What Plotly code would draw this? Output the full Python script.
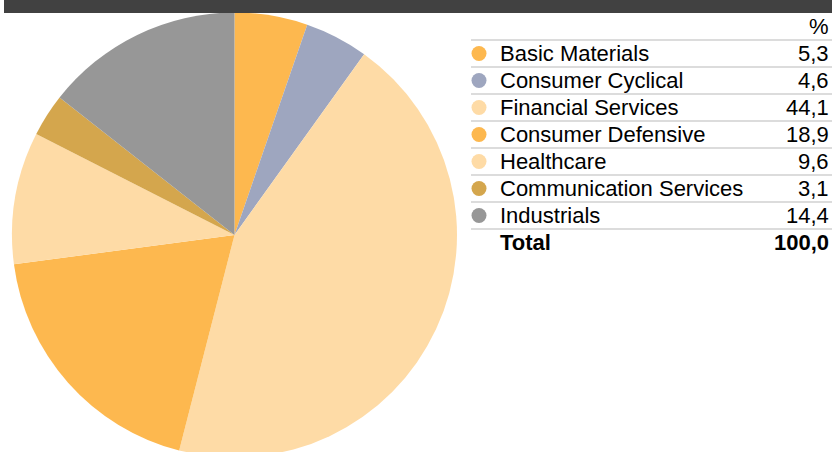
import plotly.graph_objects as go

# ---- data ----
categories = ["Basic Materials", "Consumer Cyclical", "Financial Services",
              "Consumer Defensive", "Healthcare", "Communication Services", "Industrials"]
values = [5.3, 4.6, 44.1, 18.9, 9.6, 3.1, 14.4]
value_labels = ["5,3", "4,6", "44,1", "18,9", "9,6", "3,1", "14,4"]
colors = ["#FDB84F", "#9EA6BF", "#FEDBA6", "#FDB84F", "#FEDBA6", "#D4A64D", "#979797"]
header_label = "%"
total_label = "Total"
total_value = "100,0"

# ---- layout constants (pixels) ----
W, H = 832, 470
FONT = "Liberation Sans, Arial, sans-serif"
FS = 22
row_top = 40       # first separator line
row_h = 27
dot_x = 479
text_x = 498
val_x = 831
line_x0, line_x1 = 471, 832

fig = go.Figure()

fig.add_trace(go.Pie(
    labels=categories, values=values, sort=False, direction="clockwise",
    rotation=0, marker=dict(colors=colors, line=dict(width=0)),
    textinfo="none", hoverinfo="skip", showlegend=False,
    domain=dict(x=[12 / W, 457 / W], y=[0, 1]),
))

row_centers = [row_top + row_h * (i + 0.5) for i in range(len(categories))]

fig.add_trace(go.Scatter(
    x=[dot_x] * len(categories), y=row_centers, mode="markers",
    marker=dict(size=15, color=colors, line=dict(width=0)),
    hoverinfo="skip", showlegend=False,
))

shapes = [dict(type="rect", xref="x", yref="y", x0=4, x1=W, y0=0, y1=13,
               fillcolor="#414141", line=dict(width=0), layer="above")]
for k in range(len(categories) + 1):
    yy = row_top + row_h * k
    shapes.append(dict(type="line", xref="x", yref="y", x0=line_x0, x1=line_x1,
                       y0=yy, y1=yy, line=dict(color="#DCDCDC", width=2), layer="below"))

annotations = [dict(x=val_x, y=26, xref="x", yref="y", text=header_label,
                    showarrow=False, xanchor="right", yanchor="middle",
                    font=dict(family=FONT, size=FS, color="#000"))]
for i, (c, v) in enumerate(zip(categories, value_labels)):
    annotations.append(dict(x=text_x, y=row_centers[i], xref="x", yref="y", text=c,
                            showarrow=False, xanchor="left", yanchor="middle",
                            font=dict(family=FONT, size=FS, color="#000")))
    annotations.append(dict(x=val_x, y=row_centers[i], xref="x", yref="y", text=v,
                            showarrow=False, xanchor="right", yanchor="middle",
                            font=dict(family=FONT, size=FS, color="#000")))
total_y = row_top + row_h * (len(categories) + 0.5)
annotations.append(dict(x=text_x, y=total_y, xref="x", yref="y", text="<b>" + total_label + "</b>",
                        showarrow=False, xanchor="left", yanchor="middle",
                        font=dict(family=FONT, size=FS, color="#000")))
annotations.append(dict(x=val_x, y=total_y, xref="x", yref="y", text="<b>" + total_value + "</b>",
                        showarrow=False, xanchor="right", yanchor="middle",
                        font=dict(family=FONT, size=FS, color="#000")))

fig.update_layout(
    width=W, height=H, margin=dict(l=0, r=0, t=0, b=0, pad=0),
    paper_bgcolor="white", plot_bgcolor="rgba(0,0,0,0)",
    xaxis=dict(range=[0, W], visible=False, fixedrange=True, domain=[0, 1]),
    yaxis=dict(range=[H, 0], visible=False, fixedrange=True, domain=[0, 1]),
    shapes=shapes, annotations=annotations, showlegend=False,
)

fig.write_html(
    "out.html",
    config={"displayModeBar": False},
    post_script="document.body.style.margin='0';document.body.style.overflow='hidden';document.documentElement.style.overflow='hidden';",
)
